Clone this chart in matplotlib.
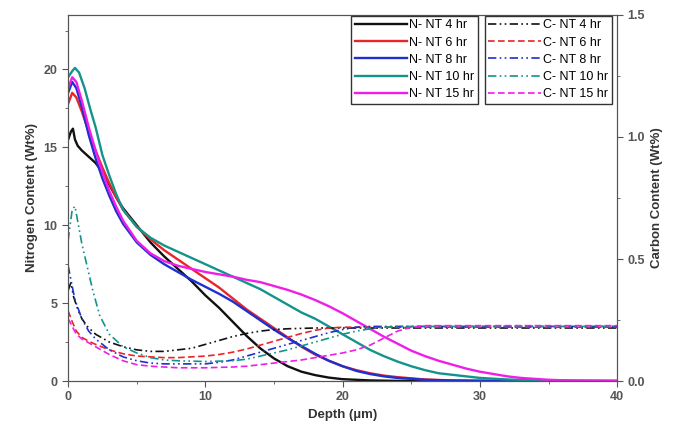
import numpy as np
import matplotlib.pyplot as plt
from matplotlib.ticker import MultipleLocator

plt.rcParams['font.family'] = ['Liberation Sans', 'DejaVu Sans']

# ── Datos: nitrógeno (eje izquierdo, Wt%) ─────────────────────────────────────
d_n4  = [0, 0.2, 0.35, 0.5, 0.7, 1, 1.5, 2, 2.5, 3, 3.5, 4, 5, 6, 7, 8, 9, 10,
         11, 12, 13, 14, 15, 16, 17, 18, 19, 20, 22, 24, 40]
n_4hr = [15.5, 16.0, 16.2, 15.5, 15.1, 14.8, 14.4, 14.0, 13.4, 12.6, 11.8, 11.1,
         10.0, 8.9, 8.0, 7.2, 6.4, 5.5, 4.7, 3.8, 2.9, 2.1, 1.45, 0.95, 0.6, 0.38,
         0.22, 0.12, 0.04, 0.01, 0]

d_n6  = [0, 0.3, 0.6, 1, 1.5, 2, 2.5, 3, 3.5, 4, 5, 6, 7, 8, 9, 10, 11, 12, 13,
         14, 15, 16, 17, 18, 19, 20, 21, 22, 23, 24, 26, 28, 30, 40]
n_6hr = [17.8, 18.5, 18.2, 17.3, 16.0, 14.8, 13.7, 12.7, 11.8, 11.0, 9.9, 9.1,
         8.4, 7.8, 7.2, 6.6, 6.0, 5.3, 4.6, 4.0, 3.4, 2.8, 2.2, 1.7, 1.3, 0.95,
         0.7, 0.5, 0.35, 0.25, 0.1, 0.04, 0.01, 0]

d_n8  = [0, 0.3, 0.6, 1, 1.5, 2, 2.5, 3, 3.5, 4, 5, 6, 7, 8, 9, 10, 11, 12, 13,
         14, 15, 16, 17, 18, 19, 20, 21, 22, 23, 24, 26, 28, 30, 40]
n_8hr = [18.5, 19.2, 18.8, 17.6, 15.8, 14.3, 13.0, 11.9, 10.9, 10.1, 8.9, 8.1,
         7.5, 7.0, 6.5, 6.05, 5.6, 5.1, 4.5, 3.9, 3.3, 2.75, 2.25, 1.75, 1.3, 0.95,
         0.65, 0.45, 0.3, 0.2, 0.08, 0.03, 0.01, 0]

d_n10  = [0, 0.3, 0.5, 0.8, 1.2, 1.6, 2, 2.5, 3, 3.5, 4, 5, 6, 7, 8, 9, 10, 11,
          12, 13, 14, 15, 16, 17, 18, 19, 20, 21, 22, 23, 24, 25, 26, 27, 28, 30,
          32, 35, 40]
n_10hr = [19.5, 19.9, 20.1, 19.8, 18.8, 17.5, 16.3, 14.5, 13.2, 12.0, 11.0, 9.9,
          9.2, 8.7, 8.3, 7.9, 7.5, 7.1, 6.7, 6.3, 5.9, 5.4, 4.9, 4.4, 4.0, 3.5,
          3.0, 2.5, 2.0, 1.6, 1.25, 0.95, 0.7, 0.5, 0.4, 0.2, 0.1, 0.02, 0]

d_n15  = [0, 0.3, 0.6, 1, 1.5, 2, 2.5, 3, 3.5, 4, 5, 6, 7, 8, 9, 10, 11, 12, 13,
          14, 15, 16, 17, 18, 19, 20, 21, 22, 23, 24, 25, 26, 27, 28, 29, 30, 31,
          32, 33, 35, 37, 40]
n_15hr = [18.8, 19.5, 19.2, 18.0, 16.3, 14.8, 13.4, 12.2, 11.2, 10.3, 9.0, 8.2,
          7.7, 7.4, 7.2, 7.0, 6.85, 6.7, 6.5, 6.35, 6.1, 5.85, 5.55, 5.2, 4.8,
          4.35, 3.85, 3.35, 2.85, 2.4, 1.95, 1.6, 1.3, 1.05, 0.8, 0.6, 0.45, 0.3,
          0.2, 0.08, 0.02, 0]

d_c4  = [0, 0.2, 0.4, 0.7, 1, 1.4, 2, 3, 4, 5, 6, 7, 8, 9, 10, 11, 12, 13, 14,
         15, 16, 18, 40]
c_4hr = [5.8, 6.3, 5.4, 4.6, 4.0, 3.5, 3.0, 2.5, 2.2, 2.0, 1.9, 1.9, 2.0, 2.1,
         2.35, 2.6, 2.85, 3.05, 3.2, 3.3, 3.35, 3.4, 3.4]

d_c6  = [0, 0.3, 0.6, 1, 1.5, 2, 3, 4, 5, 6, 7, 8, 9, 10, 11, 12, 13, 14, 15,
         16, 17, 18, 19, 20, 40]
c_6hr = [4.5, 3.8, 3.2, 2.8, 2.55, 2.35, 2.0, 1.75, 1.6, 1.55, 1.5, 1.5, 1.55,
         1.6, 1.7, 1.85, 2.05, 2.3, 2.55, 2.8, 3.05, 3.25, 3.4, 3.45, 3.45]

d_c8  = [0, 0.2, 0.5, 1, 1.5, 2, 3, 4, 5, 6, 7, 8, 10, 11, 12, 13, 14, 15, 16,
         17, 18, 19, 20, 21, 22, 40]
c_8hr = [7.4, 6.5, 5.2, 4.0, 3.2, 2.7, 2.0, 1.55, 1.3, 1.15, 1.1, 1.1, 1.1, 1.2,
         1.35, 1.6, 1.85, 2.1, 2.35, 2.6, 2.85, 3.1, 3.3, 3.45, 3.5, 3.5]

d_c10  = [0, 0.3, 0.5, 1, 1.4, 1.8, 2.3, 3, 4, 5, 6, 7, 8, 10, 12, 13, 14, 15,
          16, 17, 18, 19, 20, 21, 22, 23, 24, 40]
c_10hr = [9.0, 11.0, 11.2, 8.8, 7.3, 5.8, 4.2, 3.0, 2.2, 1.8, 1.5, 1.35, 1.3,
          1.25, 1.3, 1.4, 1.6, 1.8, 2.0, 2.25, 2.5, 2.75, 3.0, 3.2, 3.35, 3.45,
          3.5, 3.5]

d_c15  = [0, 0.3, 0.6, 1, 1.5, 2, 3, 4, 5, 6, 7, 8, 10, 12, 13, 14, 15, 16, 17,
          18, 19, 20, 21, 22, 23, 24, 25, 26, 40]
c_15hr = [4.0, 3.5, 3.0, 2.7, 2.45, 2.2, 1.7, 1.3, 1.05, 0.95, 0.9, 0.85, 0.85,
          0.9, 0.95, 1.05, 1.15, 1.25, 1.35, 1.5, 1.65, 1.8, 2.0, 2.3, 2.75, 3.2,
          3.45, 3.55, 3.55]

labels_n = ['N- NT 4 hr', 'N- NT 6 hr', 'N- NT 8 hr', 'N- NT 10 hr', 'N- NT 15 hr']
labels_c = ['C- NT 4 hr', 'C- NT 6 hr', 'C- NT 8 hr', 'C- NT 10 hr', 'C- NT 15 hr']
colores  = ['#111111', '#e8262a', '#1f2fd0', '#13938c', '#ee1ee8']
dashdotdot = (0, (5, 2, 1, 2, 1, 2))
estilos_c = [dashdotdot, (0, (4, 2)), dashdotdot, dashdotdot, (0, (4, 2))]

ESC = 15.6 / 244.0   # conversión eje izquierdo -> eje derecho

fig, ax = plt.subplots(figsize=(6.88, 4.40), dpi=100)
fig.subplots_adjust(left=0.099, right=0.897, bottom=0.134, top=0.966)
ax2 = ax.twinx()

series_n = [(d_n4, n_4hr), (d_n6, n_6hr), (d_n8, n_8hr), (d_n10, n_10hr), (d_n15, n_15hr)]
series_c = [(d_c4, c_4hr), (d_c6, c_6hr), (d_c8, c_8hr), (d_c10, c_10hr), (d_c15, c_15hr)]

lineas_n = []
for (xs, ys), c, lab in zip(series_n, colores, labels_n):
    l, = ax.plot(xs, ys, '-', color=c, lw=1.7, label=lab)
    lineas_n.append(l)

lineas_c = []
for (xs, ys), c, ls, lab in zip(series_c, colores, estilos_c, labels_c):
    l, = ax2.plot(xs, np.array(ys) * ESC, color=c, ls=ls, lw=1.2, label=lab)
    lineas_c.append(l)

ax.set_xlim(0, 40)
ax.set_ylim(0, 23.5)
ax2.set_ylim(0, 1.5)

ax.xaxis.set_major_locator(MultipleLocator(10))
ax.xaxis.set_minor_locator(MultipleLocator(5))
ax.yaxis.set_major_locator(MultipleLocator(5))
ax.yaxis.set_minor_locator(MultipleLocator(2.5))
ax2.yaxis.set_major_locator(MultipleLocator(0.5))
ax2.yaxis.set_minor_locator(MultipleLocator(0.25))

gris = '#555555'
for a in (ax, ax2):
    for s in a.spines.values():
        s.set_color(gris)
    a.tick_params(which='both', colors=gris, labelsize=9, direction='out')
    a.tick_params(which='major', length=4)
    a.tick_params(which='minor', length=2.5)
for t in ax.get_xticklabels() + ax.get_yticklabels() + ax2.get_yticklabels():
    t.set_fontweight('bold')

ax.set_xlabel('Depth (µm)', fontsize=9.5, fontweight='bold', color='#333333')
ax.set_ylabel('Nitrogen Content (Wt%)', fontsize=9.5, fontweight='bold', color='#333333')
ax2.set_ylabel('Carbon Content (Wt%)', fontsize=9.5, fontweight='bold', color='#333333')

opts = dict(fontsize=9, frameon=True, fancybox=False, edgecolor='#333333',
            handlelength=4.2, handletextpad=0.15, labelspacing=0.42,
            borderpad=0.3, borderaxespad=0.05, framealpha=1)
leg1 = ax2.legend(handles=lineas_n, loc='upper left', bbox_to_anchor=(0.514, 1.0), **opts)
ax2.add_artist(leg1)
ax2.legend(handles=lineas_c, loc='upper right', bbox_to_anchor=(0.991, 1.0), **opts)

plt.savefig('out.png', dpi=100)
